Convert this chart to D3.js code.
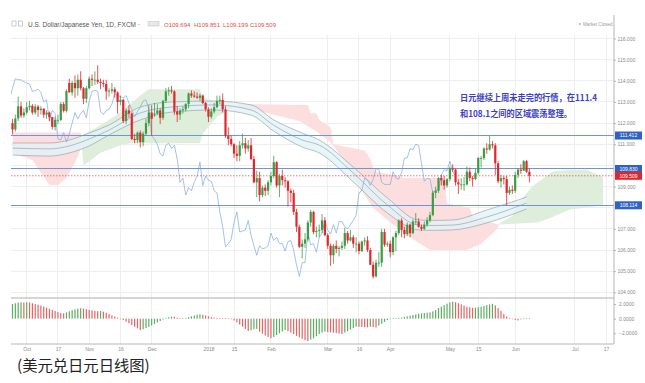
<!DOCTYPE html>
<html><head><meta charset="utf-8">
<script src="https://cdn.jsdelivr.net/npm/d3@7"></script>
<style>html,body{margin:0;padding:0;background:#fff;}svg{display:block;}</style>
</head><body>
<svg id="c" width="645" height="383"></svg>
<script>
// ---------- DATA (USD/JPY daily, Sep 25 2017 .. Jun 8 2018, one entry per trading day) ----------
const opens = [112.00,111.70,112.22,112.79,112.36,112.50,112.75,112.82,112.50,112.78,112.62,112.68,112.40,112.50,112.28,111.82,112.15,112.15,112.90,112.58,113.90,113.45,113.90,113.65,114.05,113.65,113.15,
113.65,114.10,114.05,114.05,113.95,113.90,113.85,113.50,113.53,113.60,113.45,113.00,113.10,112.10,112.60,112.45,111.25,111.20,111.55,111.10,111.50,112.00,
112.50,112.40,112.45,112.60,112.25,113.05,113.50,113.55,113.50,112.55,112.40,112.60,112.65,112.90,113.40,113.30,113.25,113.20,113.30,112.95,
112.65,112.30,112.55,112.75,113.05,113.10,112.65,111.40,111.25,111.00,110.55,110.45,110.95,111.05,110.80,110.95,110.30,109.20,109.40,108.60,108.95,108.80,
109.20,109.50,110.15,109.05,109.50,109.30,109.25,108.80,108.70,107.80,107.10,106.15,106.30,106.50,107.30,107.80,106.85,106.90,106.95,107.40,
106.70,106.20,105.75,106.20,106.05,106.10,106.20,106.80,106.45,106.60,106.30,106.30,105.95,106.40,106.45,106.00,105.30,104.75,105.40,105.40,106.85,106.25,
106.30,105.90,106.60,106.80,107.40,106.95,106.75,107.20,106.80,107.35,107.35,107.10,107.00,107.20,107.40,107.65,108.70,108.80,109.40,109.30,109.05,
109.35,109.85,109.80,109.20,109.10,109.10,109.10,109.70,109.40,109.35,109.65,110.35,110.35,110.80,110.75,111.00,110.95,110.10,109.25,109.40,109.35,108.70,108.85,
108.80,109.55,109.80,109.75,110.20,109.694];
const highs = [112.20,112.40,113.25,113.00,112.70,113.00,113.05,112.90,112.90,112.85,112.80,112.70,112.60,112.55,112.30,112.30,112.40,113.00,113.00,113.60,114.10,114.00,114.25,114.30,114.45,113.70,113.75,
114.20,114.30,114.45,114.73,114.10,114.05,114.05,113.65,113.90,113.70,113.50,113.30,113.15,112.70,112.85,112.50,111.50,111.60,111.65,111.60,112.20,112.85,
112.85,112.95,112.90,112.70,113.10,113.65,113.70,113.75,113.55,112.80,112.70,112.80,112.95,113.45,113.55,113.50,113.45,113.40,113.35,113.00,
112.75,112.70,112.95,113.30,113.30,113.40,112.80,111.80,111.40,111.05,110.95,111.15,111.50,111.30,111.20,111.30,110.45,109.75,109.70,109.05,109.10,109.30,
109.70,110.45,110.20,109.60,109.80,109.45,109.30,108.90,108.85,107.95,107.20,106.50,106.80,107.40,107.90,107.85,107.10,107.20,107.70,107.55,
106.80,106.30,106.30,106.45,106.20,106.40,107.05,106.90,106.95,106.70,106.60,106.40,106.45,106.60,106.65,106.10,105.45,105.55,105.90,107.00,107.00,106.40,
106.45,106.65,106.90,107.45,107.50,107.10,107.30,107.25,107.45,107.75,107.50,107.20,107.35,107.55,107.80,108.80,109.00,109.45,109.55,109.50,109.40,
109.95,110.05,109.85,109.35,109.40,109.45,109.95,109.90,109.50,109.85,110.40,110.45,110.85,111.05,111.40,111.15,111.05,110.20,109.55,109.50,109.50,109.00,109.05,
109.70,109.85,110.05,110.25,110.25,109.851];
const lows = [111.47,111.60,112.10,112.25,112.25,112.40,112.60,112.40,112.40,112.30,112.40,112.25,112.20,112.10,111.70,111.65,111.95,112.10,112.50,112.50,113.45,113.30,113.20,113.30,113.55,112.90,112.95,
113.60,113.75,113.80,113.85,113.60,113.70,113.10,113.25,113.40,113.20,112.45,112.85,112.00,111.95,112.25,111.20,111.05,111.05,110.85,110.90,111.40,111.85,
111.40,112.30,112.40,111.95,112.15,112.95,113.30,113.40,112.40,112.05,112.15,112.45,112.55,112.70,113.20,113.20,113.15,113.05,112.90,112.55,
112.05,112.20,112.45,112.70,112.90,112.50,111.30,110.95,110.90,110.35,110.20,110.20,110.80,110.55,110.65,110.25,109.15,108.50,108.30,108.50,108.55,108.60,
109.05,109.40,108.95,108.50,109.05,108.95,108.05,108.25,107.65,106.85,106.10,105.60,106.10,106.40,107.10,106.75,106.60,106.60,106.80,106.65,
106.05,105.25,105.35,105.85,105.70,106.00,106.05,106.30,106.40,106.10,105.90,105.80,105.90,106.20,105.90,105.30,104.65,104.70,105.20,105.20,106.15,106.15,
105.65,105.75,105.95,106.70,106.60,106.55,106.65,106.60,106.75,107.20,107.05,106.90,106.95,107.10,107.30,107.60,108.45,108.70,109.05,108.85,108.95,
109.25,109.70,109.05,108.65,108.85,108.80,109.05,109.25,109.00,109.30,109.55,109.90,110.25,110.55,110.70,110.80,109.55,109.15,108.95,109.10,108.10,108.60,108.65,
108.70,109.40,109.60,109.75,109.65,109.199];
const closes = [111.70,112.22,112.79,112.36,112.50,112.75,112.82,112.50,112.78,112.62,112.68,112.40,112.50,112.28,111.82,112.15,112.15,112.90,112.58,113.52,113.45,113.90,113.65,114.05,113.65,113.15,113.65,
114.10,114.05,114.05,113.95,113.90,113.85,113.50,113.53,113.60,113.45,113.00,113.10,112.10,112.60,112.45,111.25,111.20,111.55,111.10,111.50,112.00,112.50,
112.20,112.45,112.60,112.25,113.05,113.50,113.55,113.50,112.55,112.40,112.60,112.65,112.90,113.40,113.30,113.25,113.20,113.30,112.95,112.65,
112.30,112.55,112.75,113.05,113.10,112.65,111.40,111.25,111.00,110.55,110.45,110.95,111.05,110.80,110.95,110.30,109.20,109.40,108.60,108.95,108.80,109.20,
109.50,110.15,109.05,109.50,109.30,109.25,108.80,108.70,107.80,107.10,106.15,106.30,106.50,107.30,107.80,106.85,106.90,106.95,107.40,106.70,
106.20,105.75,106.20,106.05,106.10,106.20,106.80,106.45,106.60,106.30,106.30,105.95,106.40,106.45,106.00,105.30,104.75,105.40,105.40,106.85,106.25,106.30,
105.90,106.60,106.80,107.40,106.95,106.75,107.20,106.80,107.35,107.35,107.10,107.00,107.20,107.40,107.65,108.70,108.80,109.40,109.30,109.05,109.35,
109.85,109.80,109.20,109.10,109.10,109.10,109.70,109.40,109.35,109.65,110.35,110.35,110.80,110.75,111.00,110.95,110.10,109.25,109.40,109.35,108.70,108.85,108.80,
109.55,109.80,109.75,110.20,109.70,109.509];
const oscValues = [2.00,2.10,2.18,2.22,2.20,2.24,2.21,2.10,2.00,1.90,1.78,1.64,1.50,1.35,1.20,1.05,0.90,0.76,0.72,0.85,1.00,1.15,1.28,1.38,1.42,
1.36,1.28,1.20,1.12,1.05,1.00,1.03,0.95,0.80,0.62,0.45,0.28,0.12,0.00,-0.20,-0.42,-0.64,-0.88,-1.10,-1.32,-1.55,
-1.45,-1.30,-1.12,-0.92,-0.72,-0.52,-0.32,-0.12,0.05,0.18,0.27,0.24,0.15,0.08,0.06,0.10,0.20,0.32,0.44,0.54,0.60,
0.52,0.42,0.32,0.22,0.14,0.10,0.06,0.04,0.05,0.02,-0.05,-0.25,-0.50,-0.80,-1.10,-1.40,-1.68,-1.60,-1.45,-1.40,
-1.77,-2.05,-2.30,-2.50,-2.68,-2.50,-2.25,-2.00,-1.75,-1.55,-1.70,-1.90,-2.10,-2.35,-2.55,-2.75,-2.95,-3.05,
-2.85,-2.68,-2.40,-2.10,-1.90,-1.77,-1.82,-1.86,-1.92,-1.98,-2.05,-2.09,-1.90,-1.70,-1.50,-1.30,-1.09,-1.12,-1.14,-1.16,-1.18,
-1.10,-1.15,-1.20,-0.95,-0.70,-0.45,-0.20,0.00,0.05,0.08,0.12,0.15,
0.22,0.30,0.40,0.50,0.58,0.65,0.72,0.78,0.82,0.86,1.00,1.20,1.45,1.64,1.85,2.05,2.22,2.32,
2.25,2.10,1.95,1.80,1.64,1.55,1.48,1.50,1.56,1.64,1.75,1.85,1.95,2.02,1.80,1.45,1.05,0.65,0.30,0.10,0.00,
-0.20,-0.25,-0.10,-0.05,0.06,0.08];
// Ichimoku cloud edges [bar index, price] (leading spans, projected 26 bars ahead)
const leadSpanA = [[0,110.57],[7,110.25],[13,109.07],[16,109.07],[19,109.4],[21,109.9],[23,110.4],[24,110.8],[25,111.45],[31,111.9],[38,112.5],[45,113.3],[48,113.6],[66,113.6],[67,113.2],[75,112.9],[80,112.7],[86,112.6],[101,112.1],[107,111.6],[112,111.1],[117,110.2],[122,109.0],[127,108.0],[133,107.3],[140,106.6],[147,106.0],[160,106.0],[165,106.3],[170,106.9],[172,107.3],[176,107.6],[178,108.2],[183,109.0],[190,109.7],[196,109.8],[202,109.8],[208,109.45]];
const leadSpanB = [[0,111.55],[24,111.55],[25,110.0],[31,110.6],[37,110.9],[41,111.05],[66,111.05],[67,111.5],[72,112.3],[80,112.9],[104,112.85],[105,112.47],[107,112.47],[108,112.15],[112,111.8],[113,111.0],[124,110.7],[126,110.3],[127,109.9],[128,109.7],[134,109.55],[138,109.4],[152,109.4],[153,108.2],[161,108.0],[162,107.55],[171,107.2],[185,107.3],[190,107.55],[196,107.9],[201,108.0],[208,108.1]];
// moving-average envelope band
const bandBars  = [0,13,20,27,34,45,56,71,84,92,102,108,120,132,143,148,155,167,181];
const bandUpper = [111.06,111.06,111.20,111.53,111.91,112.76,113.00,113.04,112.86,112.15,111.53,111.20,109.92,108.46,107.42,107.40,107.42,107.89,108.50];
const bandMid   = [110.82,110.78,110.92,111.25,111.67,112.48,112.76,112.86,112.62,111.90,111.20,110.96,109.64,108.13,107.18,107.16,107.18,107.56,108.22];
const bandLower = [110.49,110.44,110.59,110.92,111.44,112.15,112.52,112.62,112.38,111.62,110.87,110.59,109.22,107.75,106.95,106.93,106.95,107.28,107.94];
const levelLines = [111.412, 109.830, 108.114];
const lastPrice = 109.509;
const lagShift = 26;
const timeTickBars   = [5,16,27,38,49,69,78,91,111,122,133,154,164,177,198,209];
const timeTickLabels = ["Oct","17","Nov","16","Dec","2018","15","Feb","Mar","16","Apr","May","15","Jun","Jul","17"];
const priceTicks = [104,105,106,107,108,109,110,111,112,113,114,115,116];
const oscTicks = [2,0,-2];
const titleText = "U.S. Dollar/Japanese Yen, 1D, FXCM";
const ohlcLabels = ["O109.694","H109.851","L109.199","C109.509"];
const noteLines = ["日元继续上周未走完的行情，在111.4","和108.1之间的区域震荡整理。"];
const captionText = "(美元兑日元日线图)";

// ---------- DRAW ----------
const svg = d3.select("#c");
const L = 11, R = 614, mainTop = 30, mainBot = 297, oscTop = 299, oscBot = 344;
const x = d3.scaleLinear().domain([0,209]).range([12.5, 12.5+209*2.84]);
const y = d3.scaleLinear().domain([104,116]).range([292.3,38.5]);
const yo = d3.scaleLinear().domain([-2,2]).range([333.3,304]);
const up = "#3d9b46", dn = "#e3262c";
const font = "'Liberation Sans', Arial, sans-serif";

const defs = svg.append("defs");
defs.append("clipPath").attr("id","mainClip").append("rect").attr("x",L).attr("y",mainTop).attr("width",R-L).attr("height",mainBot-mainTop);
defs.append("clipPath").attr("id","oscClip").append("rect").attr("x",L).attr("y",oscTop).attr("width",R-L).attr("height",oscBot-oscTop);

// grid
const grid = svg.append("g").attr("stroke","#eeeeee").attr("stroke-width",1);
grid.selectAll("line.v").data(timeTickBars).join("line")
  .attr("x1",d=>x(d)).attr("x2",d=>x(d)).attr("y1",mainTop+5).attr("y2",oscBot).attr("shape-rendering","crispEdges");
grid.selectAll("line.h").data(priceTicks).join("line")
  .attr("x1",L).attr("x2",R).attr("y1",d=>y(d)).attr("y2",d=>y(d)).attr("shape-rendering","crispEdges");

const main = svg.append("g").attr("clip-path","url(#mainClip)");

// cloud (difference of two spans)
const areaAboveA = d3.area().x(d=>x(d[0])).y0(mainTop).y1(d=>y(d[1]));
const areaBelowA = d3.area().x(d=>x(d[0])).y0(mainBot).y1(d=>y(d[1]));
defs.append("clipPath").attr("id","clipAboveA").append("path").attr("d",areaAboveA(leadSpanA));
defs.append("clipPath").attr("id","clipBelowA").append("path").attr("d",areaBelowA(leadSpanA));
main.append("path").attr("clip-path","url(#clipAboveA)")
  .attr("d",d3.area().x(d=>x(d[0])).y0(mainBot).y1(d=>y(d[1]))(leadSpanB))
  .attr("fill","#fcdede");
main.append("path").attr("clip-path","url(#clipBelowA)")
  .attr("d",d3.area().x(d=>x(d[0])).y0(mainTop).y1(d=>y(d[1]))(leadSpanB))
  .attr("fill","#deeedb");

// band
const bandData = bandBars.map((b,i)=>({b,u:bandUpper[i],m:bandMid[i],l:bandLower[i]}));
main.append("path").datum(bandData)
  .attr("d",d3.area().x(d=>x(d.b)).y0(d=>y(d.l)).y1(d=>y(d.u)).curve(d3.curveMonotoneX))
  .attr("fill","#e2f3f8").attr("opacity",0.8);
["u","m","l"].forEach(k=>{
  main.append("path").datum(bandData)
    .attr("d",d3.line().x(d=>x(d.b)).y(d=>y(d[k])).curve(d3.curveMonotoneX))
    .attr("fill","none").attr("stroke","#8c979f").attr("stroke-width",0.6);
});

// lagging line (closes shifted back)
main.append("path").datum(closes)
  .attr("d",d3.line().x((d,i)=>x(i-lagShift)).y(d=>y(d)))
  .attr("fill","none").attr("stroke","#86ade3").attr("stroke-width",0.75);

// level lines
main.selectAll("line.lvl").data(levelLines).join("line")
  .attr("x1",L).attr("x2",R).attr("y1",d=>y(d)).attr("y2",d=>y(d))
  .attr("stroke","#6c96d8").attr("stroke-width",1).attr("shape-rendering","crispEdges");
main.append("line").attr("x1",L).attr("x2",R).attr("y1",y(lastPrice)).attr("y2",y(lastPrice))
  .attr("stroke","#e05555").attr("stroke-width",0.8).attr("stroke-dasharray","1.5,1.5");

// candles
const bars = closes.map((c,i)=>({i,o:opens[i],h:highs[i],l:lows[i],c}));
main.selectAll("line.wick").data(bars).join("line")
  .attr("x1",d=>x(d.i)).attr("x2",d=>x(d.i)).attr("y1",d=>y(d.h)).attr("y2",d=>y(d.l))
  .attr("stroke",d=>d.c>=d.o?up:dn).attr("stroke-width",0.8);
main.selectAll("rect.body").data(bars).join("rect")
  .attr("x",d=>x(d.i)-1.1).attr("width",2.2)
  .attr("y",d=>y(Math.max(d.o,d.c)))
  .attr("height",d=>Math.max(0.8,Math.abs(y(d.o)-y(d.c))))
  .attr("fill",d=>d.c>=d.o?up:dn);

// oscillator
const osc = svg.append("g").attr("clip-path","url(#oscClip)");
osc.selectAll("rect").data(oscValues).join("rect")
  .attr("x",(d,i)=>x(i)-0.6).attr("width",1.2)
  .attr("y",d=>Math.min(yo(d),yo(0))).attr("height",d=>Math.max(0.6,Math.abs(yo(d)-yo(0))))
  .attr("fill",(d,i)=> (i===0 || d>=oscValues[i-1]) ? "#5cae5f" : "#e26565");

// panel lines
svg.append("line").attr("x1",L).attr("x2",R).attr("y1",298).attr("y2",298).attr("stroke","#c9c9c9").attr("stroke-width",1.6);
svg.append("line").attr("x1",L).attr("x2",R).attr("y1",oscBot).attr("y2",oscBot).attr("stroke","#b5b5b5").attr("stroke-width",1);
svg.append("line").attr("x1",R).attr("x2",R).attr("y1",15).attr("y2",oscBot).attr("stroke","#b5b5b5").attr("stroke-width",1);

// price labels on axis (tags)
const tags = levelLines.map(v=>({v,c:"#2f62c4"})).concat([{v:lastPrice,c:"#e0262b"}]);

// price axis (tick labels hidden where a tag covers them)
const shownTicks = priceTicks.filter(t=>!tags.some(g=>Math.abs(y(g.v)-y(t))<6));
const pa = svg.append("g").attr("transform",`translate(${R},0)`)
  .call(d3.axisRight(y).tickValues(shownTicks).tickFormat(d3.format(".3f")).tickSize(2).tickPadding(1.5));
pa.select(".domain").remove();
pa.selectAll("line").attr("stroke","#b5b5b5");
pa.selectAll("text").attr("font-size",5).attr("fill","#8a8a8a").attr("font-family",font);

// osc axis
const oa = svg.append("g").attr("transform",`translate(${R},0)`)
  .call(d3.axisRight(yo).tickValues(oscTicks).tickFormat(d3.format(".4f")).tickSize(2).tickPadding(3));
oa.select(".domain").remove();
oa.selectAll("line").attr("stroke","#b5b5b5");
oa.selectAll("text").attr("font-size",5).attr("fill","#8a8a8a").attr("font-family",font);

// time axis
const ta = svg.append("g").attr("transform",`translate(0,${oscBot})`)
  .call(d3.axisBottom(x).tickValues(timeTickBars).tickFormat((d,i)=>timeTickLabels[i]).tickSize(0).tickPadding(3));
ta.select(".domain").remove();
ta.selectAll("text").attr("font-size",5).attr("fill","#8a8a8a").attr("font-family",font);

const tg = svg.selectAll("g.tag").data(tags).join("g").attr("transform",d=>`translate(${R+1},${y(d.v)})`);
tg.append("rect").attr("x",0).attr("y",-4).attr("width",27).attr("height",8).attr("fill",d=>d.c);
tg.append("text").attr("x",13.5).attr("y",0).attr("dy","0.35em").attr("text-anchor","middle")
  .attr("font-size",5).attr("fill","#fff").attr("font-family",font).text(d=>d3.format(".3f")(d.v));

// header
svg.append("rect").attr("x",12).attr("y",21).attr("width",4).attr("height",5).attr("fill","none").attr("stroke","#aaa").attr("stroke-width",0.6);
svg.append("rect").attr("x",18.5).attr("y",21).attr("width",4).attr("height",5).attr("fill","none").attr("stroke","#aaa").attr("stroke-width",0.6);
svg.append("text").attr("x",28).attr("y",26.5).attr("font-size",6.4).attr("fill","#555").attr("font-family",font)
  .attr("textLength",112).attr("lengthAdjust","spacingAndGlyphs").text(titleText + " ·");
svg.append("rect").attr("x",148).attr("y",21.5).attr("width",11).attr("height",4.5).attr("fill","#e8e8e8").attr("stroke","#bbb").attr("stroke-width",0.5);
const ohlcX = [164,194,223,250];
ohlcLabels.forEach((t,i)=>svg.append("text").attr("x",ohlcX[i]).attr("y",26.5).attr("font-size",6).attr("fill","#df4c4c").attr("font-family",font).text(t));
svg.append("circle").attr("cx",580).attr("cy",24).attr("r",0.9).attr("fill","#aaa");
svg.append("text").attr("x",583).attr("y",25.8).attr("font-size",4.6).attr("fill","#9a9a9a").attr("font-family",font).text("Market Closed");

// annotation
svg.selectAll("text.note").data(noteLines).join("text")
  .attr("x",460).attr("y",(d,i)=>101+i*15.5)
  .attr("font-size",8.6).attr("font-weight","bold").attr("fill","#3c3fc6")
  .attr("font-family","'Noto Sans CJK SC', sans-serif")
  .attr("textLength",(d,i)=>i===0?137:112).attr("lengthAdjust","spacingAndGlyphs")
  .text(d=>d);

// caption
svg.append("text").attr("x",17).attr("y",371).attr("font-size",15.3).attr("fill","#222")
  .attr("font-family","'Noto Sans CJK SC', sans-serif").text(captionText);
</script>
</body></html>
